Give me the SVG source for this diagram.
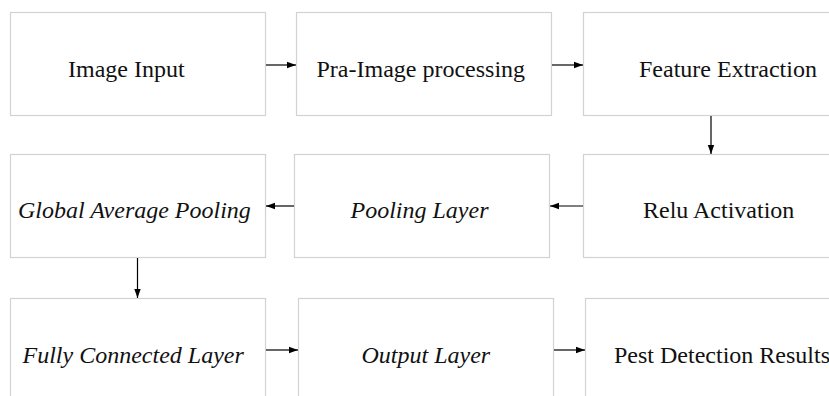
<svg xmlns="http://www.w3.org/2000/svg" width="829" height="396" viewBox="0 0 829 396">
  <style>
    .box { fill: #ffffff; stroke: #d2d2d2; stroke-width: 1.2; }
    .lbl { font-family: "Liberation Serif", "Times New Roman", serif; font-size: 24px; fill: #111111; }
    .it { font-style: italic; }
    .edge { stroke: #000000; stroke-width: 1.2; fill: none; marker-end: url(#head); }
  </style>
  <defs>
    <marker id="head" markerUnits="userSpaceOnUse" markerWidth="10" markerHeight="8" refX="9" refY="4" orient="auto">
      <path d="M0,0.8 L9,4 L0,7.2 Z" fill="#000000"/>
    </marker>
  </defs>
  <rect width="829" height="396" fill="#ffffff"/>

  <!-- row 1 -->
  <g id="image-input">
    <rect class="box" x="10.5" y="12.5" width="255" height="103"/>
    <text class="lbl" x="68" y="77">Image Input</text>
  </g>
  <g id="pre-processing">
    <rect class="box" x="296.5" y="12.5" width="255" height="103"/>
    <text class="lbl" x="316.5" y="77">Pra-Image processing</text>
  </g>
  <g id="feature-extraction">
    <rect class="box" x="583.5" y="12.5" width="260" height="103"/>
    <text class="lbl" x="639" y="77">Feature Extraction</text>
  </g>

  <!-- row 2 -->
  <g id="global-average-pooling">
    <rect class="box" x="10.5" y="154.5" width="255" height="103"/>
    <text class="lbl it" x="18" y="218">Global Average Pooling</text>
  </g>
  <g id="pooling-layer">
    <rect class="box" x="294.5" y="154.5" width="255" height="103"/>
    <text class="lbl it" x="350.5" y="218">Pooling Layer</text>
  </g>
  <g id="relu-activation">
    <rect class="box" x="583.5" y="154.5" width="260" height="103"/>
    <text class="lbl" x="643" y="218">Relu Activation</text>
  </g>

  <!-- row 3 -->
  <g id="fully-connected-layer">
    <rect class="box" x="10.5" y="298.5" width="255" height="110"/>
    <text class="lbl it" x="22.5" y="362.5">Fully Connected Layer</text>
  </g>
  <g id="output-layer">
    <rect class="box" x="298.5" y="298.5" width="255" height="110"/>
    <text class="lbl it" x="361.5" y="362.5">Output Layer</text>
  </g>
  <g id="pest-detection-results">
    <rect class="box" x="585.5" y="298.5" width="260" height="110"/>
    <text class="lbl" x="614" y="362.5">Pest Detection Results</text>
  </g>

  <!-- connectors -->
  <g id="connectors">
    <line class="edge" x1="266" y1="65" x2="296" y2="65"/>
    <line class="edge" x1="552" y1="65" x2="583" y2="65"/>
    <line class="edge" x1="711" y1="116" x2="711" y2="154"/>
    <line class="edge" x1="583" y1="206" x2="550" y2="206"/>
    <line class="edge" x1="294" y1="206" x2="266" y2="206"/>
    <line class="edge" x1="137.5" y1="258" x2="137.5" y2="298"/>
    <line class="edge" x1="266" y1="350" x2="298" y2="350"/>
    <line class="edge" x1="554" y1="350" x2="585" y2="350"/>
  </g>
</svg>
